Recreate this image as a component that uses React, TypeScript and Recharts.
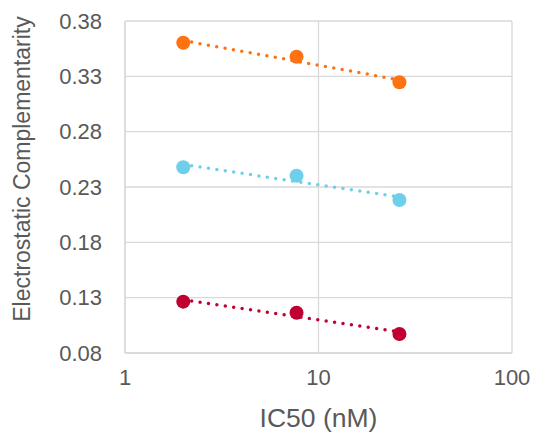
import React from "react";
import {
  CartesianGrid,
  Label,
  Scatter,
  ScatterChart,
  XAxis,
  YAxis,
} from "recharts";

const xTicks = [1, 10, 100];
const yTicks = [0.08, 0.13, 0.18, 0.23, 0.28, 0.33, 0.38];

const ic50 = [2, 7.7, 26.2];
const orangeValues = [0.3604, 0.3477, 0.3246];
const blueValues = [0.2478, 0.2402, 0.2183];
const redValues = [0.1264, 0.1164, 0.0972];

// trendline end points
const trendX = [2, 26.2];
const orangeTrend = [0.3623, 0.3267];
const blueTrend = [0.2503, 0.221];
const redTrend = [0.1281, 0.099];

const toPoints = (xs: number[], ys: number[]) => xs.map((x, i) => ({ x, y: ys[i] }));

const series = [
  { name: "orange", color: "#FF7213", values: orangeValues, trend: orangeTrend },
  { name: "blue", color: "#6FCFEB", values: blueValues, trend: blueTrend },
  { name: "red", color: "#C00030", values: redValues, trend: redTrend },
];

const font = "'Liberation Sans', Arial, sans-serif";
const grid = "#D9D9D9";
const textColor = "#595959";

function YTitle({ viewBox }: any) {
  const cx = 22;
  const cy = viewBox.y + viewBox.height / 2 - 18;
  return (
    <text
      x={cx}
      y={cy}
      transform={`rotate(-90, ${cx}, ${cy})`}
      textAnchor="middle"
      dominantBaseline="central"
      fill={textColor}
      fontSize={23}
    >
      Electrostatic Complementarity
    </text>
  );
}

export default function App() {
  return (
    <div style={{ position: "absolute", left: 0, top: 0, background: "#fff" }}>
      <ScatterChart
        width={535}
        height={433}
        margin={{ top: 21, right: 23, left: 0, bottom: 0 }}
        style={{ fontFamily: font }}
      >
        <CartesianGrid stroke={grid} strokeWidth={1.3} />
        <XAxis
          type="number"
          dataKey="x"
          scale="log"
          domain={[1, 100]}
          ticks={xTicks}
          allowDataOverflow
          height={80}
          axisLine={{ stroke: grid, strokeWidth: 1.3 }}
          tickLine={false}
          tickSize={0}
          tickMargin={16}
          tick={{ fill: textColor, fontSize: 22 }}
        >
          <Label value="IC50 (nM)" position="insideBottom" offset={6} fill={textColor} fontSize={26.5} />
        </XAxis>
        <YAxis
          type="number"
          dataKey="y"
          domain={[0.08, 0.38]}
          ticks={yTicks}
          allowDataOverflow
          width={125}
          axisLine={{ stroke: grid, strokeWidth: 1.3 }}
          tickLine={false}
          tickSize={0}
          tickMargin={23}
          tickFormatter={(v: number) => v.toFixed(2)}
          tick={{ fill: textColor, fontSize: 22 }}
        >
          <Label content={YTitle} />
        </YAxis>
        {series.map((s) => (
          <Scatter
            key={s.name + "-trend"}
            data={toPoints(trendX, s.trend)}
            line={{ stroke: s.color, strokeWidth: 3.5, strokeDasharray: "0 8.5", strokeLinecap: "round" }}
            shape={() => <g />}
            isAnimationActive={false}
          />
        ))}
        {series.map((s) => (
          <Scatter
            key={s.name}
            data={toPoints(ic50, s.values)}
            shape={(p: any) => <circle cx={p.cx} cy={p.cy} r={7} fill={s.color} />}
            isAnimationActive={false}
          />
        ))}
      </ScatterChart>
    </div>
  );
}
